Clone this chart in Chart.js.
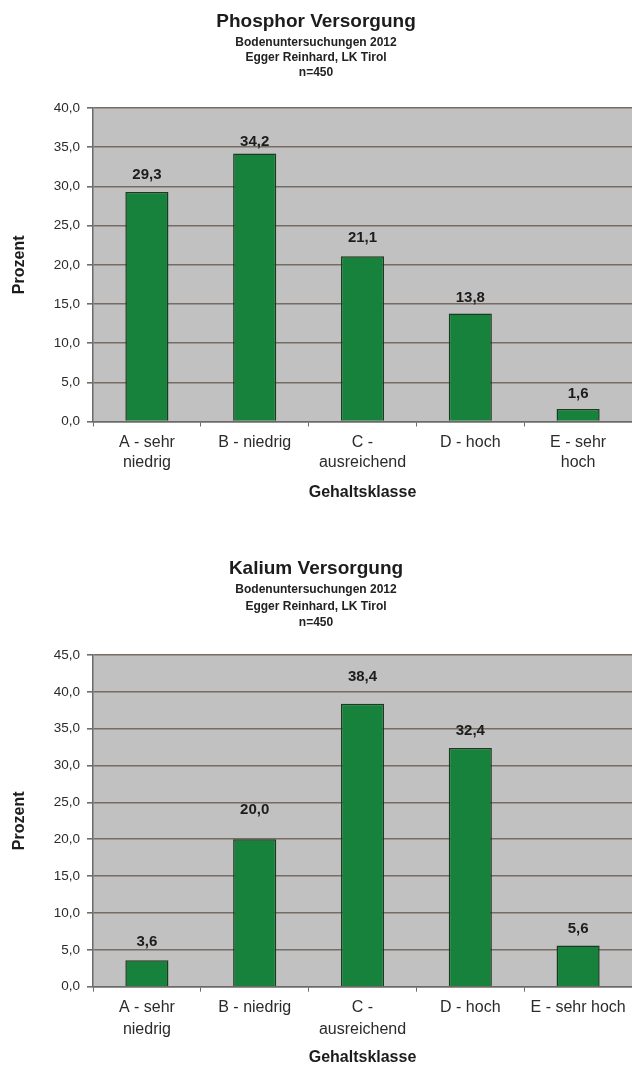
<!DOCTYPE html>
<html>
<head>
<meta charset="utf-8">
<script src="https://cdn.jsdelivr.net/npm/chart.js@4.4.1/dist/chart.umd.min.js"></script>
<style>
  html, body { margin: 0; padding: 0; background: #ffffff; }
  .box { position: relative; width: 632px; height: 533px; }
  canvas { display: block; }
</style>
</head>
<body>
<div class="box"><canvas id="phosphor" width="632" height="533"></canvas></div>
<div class="box"><canvas id="kalium" width="632" height="533"></canvas></div>
<script>
// ---- data ----
const subtitleLines = ["Bodenuntersuchungen 2012", "Egger Reinhard, LK Tirol", "n=450"];

const phosphorTitle = "Phosphor Versorgung";
const phosphorClasses = [["A - sehr", "niedrig"], "B - niedrig", ["C -", "ausreichend"], "D - hoch", ["E - sehr", "hoch"]];
const phosphorValues = [29.3, 34.2, 21.1, 13.8, 1.6];
const phosphorYTicks = [0, 5, 10, 15, 20, 25, 30, 35, 40];

const kaliumTitle = "Kalium Versorgung";
const kaliumClasses = [["A - sehr", "niedrig"], "B - niedrig", ["C -", "ausreichend"], "D - hoch", "E - sehr hoch"];
const kaliumValues = [3.6, 20.0, 38.4, 32.4, 5.6];
const kaliumYTicks = [0, 5, 10, 15, 20, 25, 30, 35, 40, 45];

const xAxisTitle = "Gehaltsklasse";
const yAxisTitle = "Prozent";

// ---- look ----
const FONT = "'Liberation Sans', Arial, Helvetica, sans-serif";
const INK = "#1c1c1c";
const GRID = "#766c64";
const AXIS = "#6a6a6a";
const PLOT_BG = "#c1c1c1";
const BAR_FILL = "#16823c";
const BAR_EDGE = "#1b3a1f";

const fmt = v => v.toFixed(1).replace(".", ",");

// grey plot area behind the bars
const plotBackground = {
  id: "plotBackground",
  beforeDraw(chart) {
    const { ctx, chartArea: a } = chart;
    ctx.save();
    ctx.fillStyle = PLOT_BG;
    ctx.fillRect(a.left, a.top, a.right - a.left, a.bottom - a.top);
    ctx.restore();
  }
};

// value printed above each bar
const valueLabels = {
  id: "valueLabels",
  afterDatasetsDraw(chart, args, opts) {
    const { ctx } = chart;
    const meta = chart.getDatasetMeta(0);
    const values = chart.data.datasets[0].data;
    ctx.save();
    ctx.font = "bold 15px " + FONT;
    ctx.fillStyle = INK;
    ctx.textAlign = "center";
    ctx.textBaseline = "middle";
    meta.data.forEach((bar, i) => {
      const gap = (opts.gaps && opts.gaps[i] != null) ? opts.gaps[i] : 16;
      ctx.fillText(fmt(values[i]), bar.x, bar.y - gap);
    });
    ctx.restore();
  }
};

function buildChart(id, title, classes, values, yTicks, look) {
  return new Chart(document.getElementById(id), {
    type: "bar",
    data: {
      labels: classes,
      datasets: [{
        data: values,
        backgroundColor: BAR_FILL,
        borderColor: BAR_EDGE,
        borderWidth: 1.5,
        categoryPercentage: 1.0,
        barPercentage: 0.4
      }]
    },
    options: {
      responsive: false,
      animation: false,
      events: [],
      layout: { padding: { left: 0, right: 0, top: 0, bottom: 0 } },
      plugins: {
        legend: { display: false },
        tooltip: { enabled: false },
        title: {
          display: true,
          text: title,
          color: INK,
          font: { family: FONT, size: 19, weight: "bold", lineHeight: 1.2 },
          padding: look.titlePad
        },
        subtitle: {
          display: true,
          text: subtitleLines,
          color: "#222222",
          font: { family: FONT, size: 12, weight: "bold", lineHeight: look.subLineHeight },
          padding: look.subPad
        },
        valueLabels: { gaps: look.labelGaps }
      },
      scales: {
        x: {
          afterFit(scale) { scale.height = look.xAxisHeight; },
          grid: {
            display: true,
            drawOnChartArea: false,
            drawTicks: true,
            tickLength: 5,
            color: AXIS,
            lineWidth: 1
          },
          border: { display: true, color: AXIS, width: 1.5 },
          ticks: {
            color: "#2b2b2b",
            padding: look.xTickPad,
            maxRotation: 0,
            autoSkip: false,
            font: { family: FONT, size: 16, lineHeight: look.xLabelLineHeight }
          },
          title: {
            display: true,
            text: xAxisTitle,
            color: INK,
            font: { family: FONT, size: 16, weight: "bold", lineHeight: 1.0 },
            padding: { top: 4, bottom: look.xTitlePadBottom }
          }
        },
        y: {
          min: yTicks[0],
          max: yTicks[yTicks.length - 1],
          afterFit(scale) { scale.width = 93; },
          afterBuildTicks(scale) { scale.ticks = yTicks.map(v => ({ value: v })); },
          grid: {
            color: GRID,
            lineWidth: 1.6,
            drawTicks: true,
            tickLength: 6
          },
          border: { display: true, color: AXIS, width: 1.5 },
          ticks: {
            color: "#2b2b2b",
            padding: 7,
            font: { family: FONT, size: 13.5 },
            callback: v => fmt(v)
          },
          title: {
            display: true,
            text: yAxisTitle,
            color: INK,
            font: { family: FONT, size: 16, weight: "bold", lineHeight: 1.2 },
            padding: { top: 10.4, bottom: 4 }
          }
        }
      }
    },
    plugins: [plotBackground, valueLabels]
  });
}

buildChart("phosphor", phosphorTitle, phosphorClasses, phosphorValues, phosphorYTicks, {
  titlePad: { top: 10.3, bottom: 2 },
  subLineHeight: 1.25,
  subPad: { top: 0.1, bottom: 27.9 },
  xAxisHeight: 111.5,
  xTickPad: 6.5,
  xLabelLineHeight: 20 / 16,
  xTitlePadBottom: 32,
  labelGaps: [17, 12, 18, 16, 15]
});

buildChart("kalium", kaliumTitle, kaliumClasses, kaliumValues, kaliumYTicks, {
  titlePad: { top: 24.6, bottom: 1.35 },
  subLineHeight: 1.375,
  subPad: { top: 0, bottom: 23.75 },
  xAxisHeight: 79.3,
  xTickPad: 5.3,
  xLabelLineHeight: 22 / 16,
  xTitlePadBottom: 0,
  labelGaps: [18, 29, 27, 17, 17]
});
</script>
</body>
</html>
